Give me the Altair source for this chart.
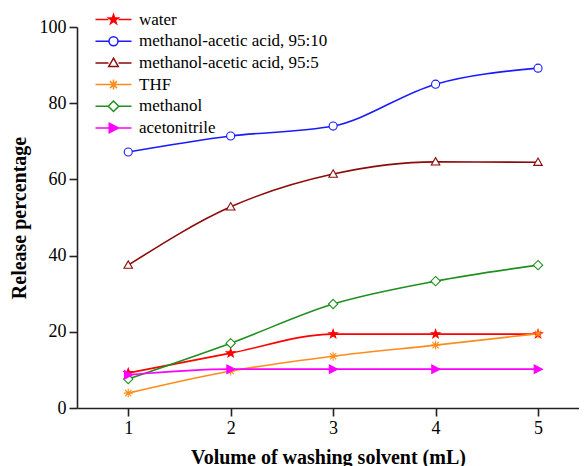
import altair as alt
import pandas as pd

volumes = [1, 2, 3, 4, 5]
series = ["water", "methanol-acetic acid, 95:10", "methanol-acetic acid, 95:5",
          "THF", "methanol", "acetonitrile"]
water = [9.2, 14.4, 19.4, 19.4, 19.4]
ma_95_10 = [67.2, 71.4, 74.0, 85.0, 89.2]
ma_95_5 = [37.5, 52.8, 61.4, 64.6, 64.5]
thf = [3.9, 9.7, 13.6, 16.5, 19.5]
methanol = [7.6, 17.0, 27.3, 33.3, 37.5]
acetonitrile = [8.7, 10.2, 10.2, 10.2, 10.2]
values = [water, ma_95_10, ma_95_5, thf, methanol, acetonitrile]

colors = ["#ff0000", "#1a1aff", "#8b0a0a", "#ff8c1a", "#1f8f1f", "#ff00ff"]
fills = ["#ff0000", "white", "white", "#ff8c1a", "white", "#ff00ff"]

star = ("M0,-1 L0.235,-0.324 L0.951,-0.309 L0.380,0.124 L0.588,0.809 L0,0.4 "
        "L-0.588,0.809 L-0.380,0.124 L-0.951,-0.309 L-0.235,-0.324 Z")
circle = "M0.9,0 A0.9,0.9 0 1,1 -0.9,0 A0.9,0.9 0 1,1 0.9,0 Z"
tri_up = "M0,-0.95 L0.95,0.7 L-0.95,0.7 Z"
asterisk = "M-1,0H1 M0,-1V1 M-0.7,-0.7L0.7,0.7 M-0.7,0.7L0.7,-0.7"
diamond = "M0,-1.05 L1.05,0 L0,1.05 L-1.05,0 Z"
tri_right = "M-0.85,-0.95 L1,0 L-0.85,0.95 Z"
shapes = [star, circle, tri_up, asterisk, diamond, tri_right]
leg_line = "M-3.6,0H-1 M1,0H3.6 "
legend_shapes = [leg_line + s for s in shapes]

rows = []
for name, vals in zip(series, values):
    for v, p in zip(volumes, vals):
        rows.append({"series": name, "volume": v, "pct": p})
df = pd.DataFrame(rows)
leg_df = pd.DataFrame({"lseries": series, "volume": [0] * 6, "pct": [-50] * 6})

xs = alt.Scale(domain=[0.5, 5.4], nice=False, zero=False)
ys = alt.Scale(domain=[0, 100], nice=False)
font = "Liberation Serif"

x_enc = alt.X("volume:Q", scale=xs,
              axis=alt.Axis(values=volumes, format="d", title="Volume of washing solvent (mL)"))
y_enc = alt.Y("pct:Q", scale=ys,
              axis=alt.Axis(values=[0, 20, 40, 60, 80, 100], title="Release percentage"))

lines = alt.Chart(df).mark_line(interpolate="monotone", strokeWidth=1.6).encode(
    x=x_enc, y=y_enc,
    color=alt.Color("series:N", scale=alt.Scale(domain=series, range=colors), legend=None),
    detail="series:N",
)

points = alt.Chart(df).mark_point(size=80, strokeWidth=1.1, opacity=1).encode(
    x=alt.X("volume:Q", scale=xs), y=alt.Y("pct:Q", scale=ys),
    stroke=alt.Stroke("series:N", scale=alt.Scale(domain=series, range=colors), legend=None),
    fill=alt.Fill("series:N", scale=alt.Scale(domain=series, range=fills), legend=None),
    shape=alt.Shape("series:N", scale=alt.Scale(domain=series, range=shapes), legend=None),
)

leg = alt.Legend(title=None, orient="none", legendX=28, legendY=-16, padding=0,
                 symbolSize=100, symbolStrokeWidth=1.5, labelOffset=17,
                 rowPadding=3.7, labelFont=font, labelFontSize=17, labelColor="black",
                 labelLimit=400)
legend_layer = alt.Chart(leg_df).mark_point(size=100, clip=True, opacity=1).encode(
    x=alt.X("volume:Q", scale=xs), y=alt.Y("pct:Q", scale=ys),
    stroke=alt.Stroke("lseries:N", scale=alt.Scale(domain=series, range=colors), legend=leg),
    fill=alt.Fill("lseries:N", scale=alt.Scale(domain=series, range=fills), legend=leg),
    shape=alt.Shape("lseries:N", scale=alt.Scale(domain=series, range=legend_shapes), legend=leg),
)

chart = alt.layer(lines, points, legend_layer).resolve_scale(
    color="independent", stroke="independent", fill="independent", shape="independent"
).properties(
    width=502, height=381,
    padding={"left": 69, "top": 19, "right": 0, "bottom": 58},
    autosize=alt.AutoSizeParams(type="none"),
).configure(font=font).configure_view(stroke=None).configure_axis(
    grid=False, domainColor="#222", domainWidth=1.6, tickColor="#222", tickWidth=1.6,
    tickSize=8, labelFont=font, labelFontSize=18, labelColor="black", labelPadding=3,
    titleFont=font, titleFontSize=20, titleFontWeight="bold", titleColor="black",
).configure_axisY(titlePadding=10).configure_axisX(titlePadding=10).configure_legend(
    labelFont=font, labelFontSize=17, labelColor="black"
)

chart.save("out.html", embed_options={"renderer": "svg", "actions": False})
